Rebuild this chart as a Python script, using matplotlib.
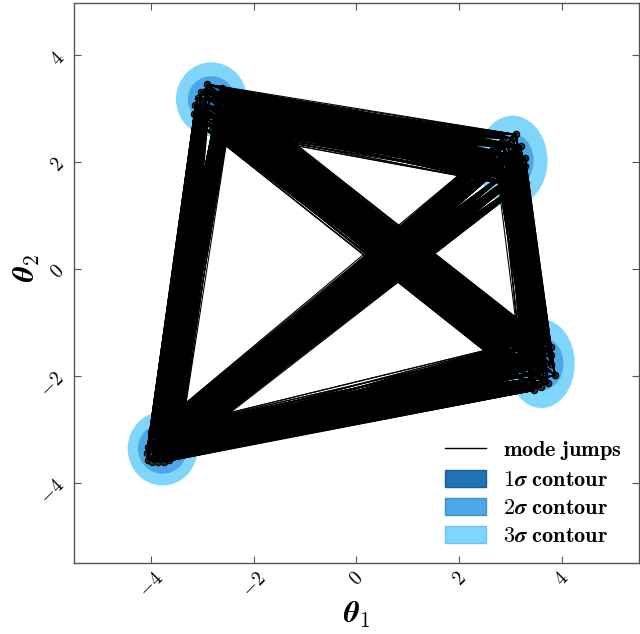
import itertools
import matplotlib
matplotlib.use("Agg")
import matplotlib.pyplot as plt
from matplotlib.patches import Ellipse, Patch
from matplotlib.lines import Line2D
from matplotlib.collections import LineCollection

plt.rcParams["mathtext.fontset"] = "cm"

# ---- data ----
# sample positions inside each of the four modes
mode1_x = [-2.90, -2.61, -3.02, -3.09, -3.13, -3.15, -2.85, -2.70, -2.95, -2.75,
           -3.00, -2.55, -2.45, -2.50, -2.65, -2.80, -3.05, -2.90, -2.60, -2.40]
mode1_y = [3.46, 3.38, 3.32, 3.21, 3.08, 2.91, 3.20, 3.05, 2.85, 2.80,
           3.05, 3.20, 3.30, 3.00, 2.75, 2.60, 2.70, 3.35, 2.95, 3.15]
mode2_x = [3.11, 3.09, 3.29, 3.29, 3.31, 2.95, 3.05, 3.15, 2.90, 3.00,
           3.20, 2.85, 2.75, 2.80, 2.70, 3.10, 2.95, 3.20, 2.85, 3.05]
mode2_y = [2.52, 2.27, 2.08, 1.93, 1.62, 2.35, 2.10, 1.80, 2.15, 1.70,
           2.30, 2.45, 2.30, 1.95, 2.10, 1.55, 1.85, 1.75, 1.60, 2.45]
mode3_x = [3.79, 3.79, 3.79, 3.87, 3.73, 3.46, 3.55, 3.65, 3.40, 3.60,
           3.50, 3.70, 3.35, 3.30, 3.45, 3.60, 3.25, 3.50, 3.65, 3.40]
mode3_y = [-1.45, -1.60, -1.78, -1.99, -2.14, -2.27, -1.70, -1.90, -2.05, -2.20,
           -1.50, -1.35, -1.80, -1.55, -1.30, -1.60, -2.10, -1.95, -2.10, -2.20]
mode4_x = [-4.06, -4.08, -4.06, -3.97, -3.85, -3.75, -3.64, -3.90, -3.80, -3.70,
           -3.95, -3.60, -3.55, -3.50, -3.65, -3.80, -4.00, -3.45, -3.70, -3.90]
mode4_y = [-3.32, -3.44, -3.57, -3.61, -3.61, -3.61, -3.57, -3.30, -3.45, -3.40,
           -3.15, -3.30, -3.45, -3.20, -3.10, -3.00, -3.05, -3.35, -3.20, -3.50]

# contour centres and half-widths / half-heights for 1, 2, 3 sigma
cont_cx = [-2.82, 3.04, 3.60, -3.77]
cont_cy = [3.18, 2.03, -1.77, -3.36]
sig3_rx = [0.69, 0.68, 0.65, 0.68]
sig3_ry = [0.69, 0.84, 0.83, 0.69]
sig2_rx = [0.46, 0.41, 0.43, 0.48]
sig2_ry = [0.43, 0.50, 0.50, 0.47]
sig1_rx = [0.25, 0.22, 0.24, 0.26]
sig1_ry = [0.24, 0.28, 0.28, 0.26]

xticks = [-4, -2, 0, 2, 4]
yticks = [-4, -2, 0, 2, 4]
xlim = (-5.5, 5.5)
ylim = (-5.5, 4.98)

legend_labels = [r"$\mathbf{mode\ jumps}$",
                 r"$\mathbf{1}\boldsymbol{\sigma}\ \mathbf{contour}$",
                 r"$\mathbf{2}\boldsymbol{\sigma}\ \mathbf{contour}$",
                 r"$\mathbf{3}\boldsymbol{\sigma}\ \mathbf{contour}$"]
col1, col2, col3 = "#2171b5", "#4da6e6", "#80d6fa"

# ---- figure ----
fig = plt.figure(figsize=(6.4, 6.34), dpi=100)
ax = fig.add_axes([73.7 / 640, 1 - 563 / 634, (639 - 73.7) / 640, (563 - 3) / 634])

for i in range(4):
    for rx, ry, c in ((sig3_rx, sig3_ry, col3), (sig2_rx, sig2_ry, col2), (sig1_rx, sig1_ry, col1)):
        ax.add_patch(Ellipse((cont_cx[i], cont_cy[i]), 2 * rx[i], 2 * ry[i],
                             facecolor=c, edgecolor="none", zorder=1))

modes = [(mode1_x, mode1_y), (mode2_x, mode2_y), (mode3_x, mode3_y), (mode4_x, mode4_y)]
segs = []
for (ax_, ay_), (bx_, by_) in itertools.combinations(modes, 2):
    for xa, ya in zip(ax_, ay_):
        for xb, yb in zip(bx_, by_):
            segs.append([(xa, ya), (xb, yb)])
ax.add_collection(LineCollection(segs, colors="black", linewidths=0.8, zorder=3))

for mx, my in modes:
    ax.plot(mx, my, "o", ms=4.5, mfc="#333333", mec="black", mew=0.9, zorder=2, ls="none")

ax.set_xlim(*xlim)
ax.set_ylim(*ylim)
ax.set_xticks(xticks, labels=[f"${t}$" for t in xticks], rotation=45, fontsize=14)
ax.set_yticks(yticks, labels=[f"${t}$" for t in yticks], rotation=45, fontsize=14)
ax.tick_params(direction="in", top=True, right=True, length=5, width=0.8,
               color="#555555", pad=4)
for s in ax.spines.values():
    s.set_color("#555555")
    s.set_linewidth(1.0)

fig.text(357 / 640, 1 - 615 / 634, r"$\boldsymbol{\theta}_1$", fontsize=22,
         ha="center", va="center")
fig.text(27 / 640, 1 - 268 / 634, r"$\boldsymbol{\theta}_2$", fontsize=22,
         ha="center", va="center", rotation=90)

handles = [Line2D([], [], color="black", lw=1.0),
           Patch(facecolor=col1, edgecolor="#1a5f99"),
           Patch(facecolor=col2, edgecolor="#3d92d0"),
           Patch(facecolor=col3, edgecolor="#6cc4ea")]
ax.legend(handles, legend_labels, loc="lower right", frameon=False, fontsize=16,
          handlelength=1.85, handleheight=0.8, labelspacing=0.35, handletextpad=0.77,
          bbox_to_anchor=(622 / 640, 1 - 546 / 634), bbox_transform=fig.transFigure,
          borderaxespad=0, borderpad=0)

fig.savefig("out.png", dpi=100)
